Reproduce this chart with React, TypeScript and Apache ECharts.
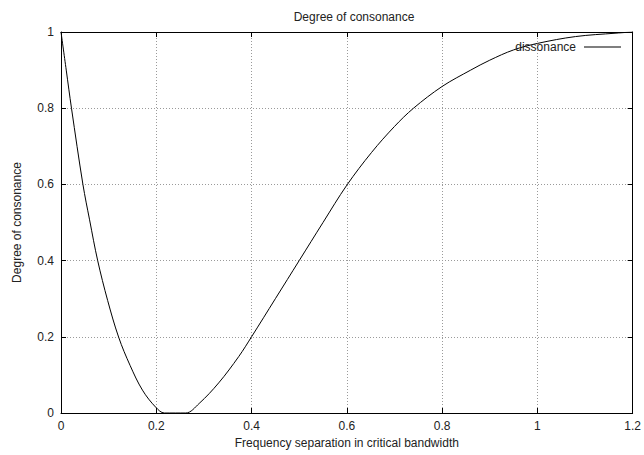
import React, { useEffect, useRef } from "react";
import * as echarts from "echarts";

const chartTitle = "Degree of consonance";
const xAxisName = "Frequency separation in critical bandwidth";
const yAxisName = "Degree of consonance";
const seriesName = "dissonance";

const separation = [
  0, 0.011, 0.022, 0.046, 0.06, 0.077, 0.098, 0.121, 0.145, 0.171, 0.199, 0.217,
  0.24, 0.262, 0.29, 0.331, 0.373, 0.4, 0.45, 0.5, 0.55, 0.6, 0.652, 0.7, 0.74,
  0.8, 0.86, 0.9, 0.95, 1.0, 1.08, 1.165, 1.2,
];
const consonance = [
  1, 0.9, 0.8, 0.6, 0.507, 0.4, 0.295, 0.199, 0.125, 0.06, 0.015, 0,
  0, 0, 0.025, 0.079, 0.148, 0.2, 0.3, 0.4, 0.5, 0.598, 0.684, 0.752, 0.8,
  0.857, 0.9, 0.926, 0.953, 0.97, 0.988, 0.997, 1,
];

const font = "Liberation Sans, Arial, sans-serif";

export default function App() {
  const ref = useRef<HTMLDivElement>(null);
  useEffect(() => {
    if (!ref.current) return;
    const chart = echarts.init(ref.current, null, { renderer: "svg" });
    const data = separation.map((x, i) => [x, consonance[i]]);
    const gridLine = { show: true, lineStyle: { color: "#9a9a9a", type: [1, 2] as any, width: 1 } };
    chart.setOption({
      animation: false,
      backgroundColor: "#fff",
      textStyle: { fontFamily: font, color: "#222" },
      title: {
        text: chartTitle,
        left: 349,
        textAlign: "center",
        top: 6,
        textStyle: { fontSize: 12, fontWeight: "normal", color: "#222", fontFamily: font },
      },
      legend: {
        right: 18,
        top: 36,
        align: "right",
        icon: "rect",
        itemWidth: 37,
        itemHeight: 1,
        textStyle: { fontSize: 12, color: "#222", fontFamily: font, padding: [0, 3, 0, 0] },
        data: [seriesName],
      },
      grid: { left: 61, right: 7, top: 32, bottom: 42, containLabel: false },
      xAxis: [
        {
          type: "value",
          min: 0,
          max: 1.2,
          interval: 0.2,
          name: xAxisName,
          nameLocation: "middle",
          nameGap: 23,
          nameTextStyle: { fontSize: 12, color: "#222", fontFamily: font },
          axisLine: { show: true, onZero: false, lineStyle: { color: "#000", width: 1 } },
          axisTick: { show: true, inside: true, length: 5, lineStyle: { color: "#000" } },
          axisLabel: { fontSize: 12, color: "#222", margin: 7, fontFamily: font },
          splitLine: gridLine,
        },
        {
          type: "value",
          position: "top",
          min: 0,
          max: 1.2,
          interval: 0.2,
          axisLine: { show: true, onZero: false, lineStyle: { color: "#000", width: 1 } },
          axisTick: { show: true, inside: true, length: 5, lineStyle: { color: "#000" } },
          axisLabel: { show: false },
          splitLine: { show: false },
        },
      ],
      yAxis: [
        {
          type: "value",
          min: 0,
          max: 1,
          interval: 0.2,
          name: yAxisName,
          nameLocation: "middle",
          nameGap: 38,
          nameRotate: 90,
          nameTextStyle: { fontSize: 12, color: "#222", fontFamily: font },
          axisLine: { show: true, onZero: false, lineStyle: { color: "#000", width: 1 } },
          axisTick: { show: true, inside: true, length: 5, lineStyle: { color: "#000" } },
          axisLabel: { fontSize: 12, color: "#222", margin: 7, fontFamily: font },
          splitLine: gridLine,
        },
        {
          type: "value",
          position: "right",
          min: 0,
          max: 1,
          interval: 0.2,
          axisLine: { show: true, onZero: false, lineStyle: { color: "#000", width: 1 } },
          axisTick: { show: true, inside: true, length: 5, lineStyle: { color: "#000" } },
          axisLabel: { show: false },
          splitLine: { show: false },
        },
      ],
      series: [
        {
          name: seriesName,
          type: "line",
          data,
          symbol: "none",
          smooth: 0.35,
          clip: true,
          lineStyle: { color: "#000", width: 1 },
          itemStyle: { color: "#000" },
        },
      ],
    });
    return () => chart.dispose();
  }, []);
  return <div ref={ref} style={{ width: 644, height: 455, position: "fixed", left: 0, top: 0 }} />;
}
